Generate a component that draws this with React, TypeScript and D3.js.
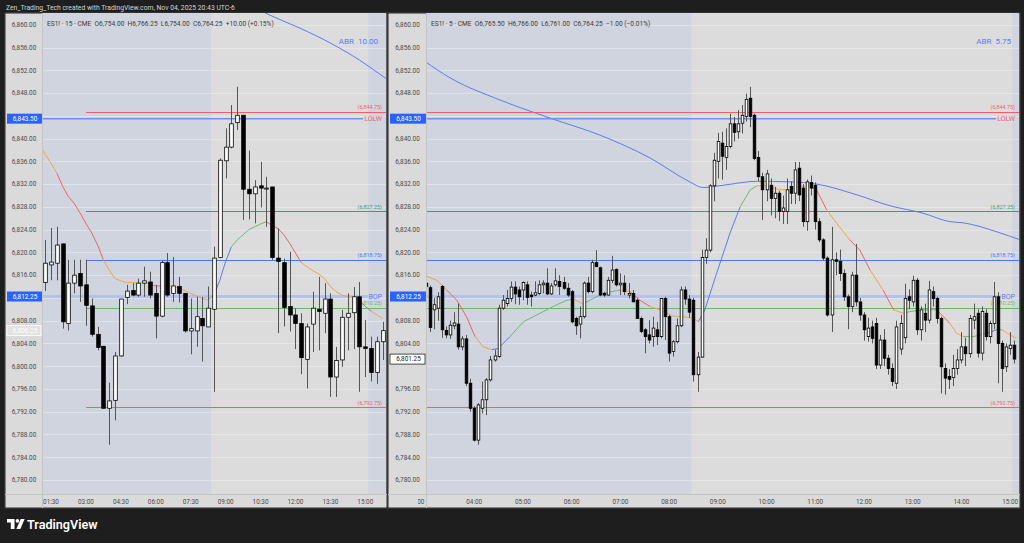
import React from "react";
import * as d3 from "d3";

const FONT = "Roboto, 'Liberation Sans', sans-serif";

// ---------- data ----------
const watermark = "Zen_Trading_Tech created with TradingView.com, Nov 04, 2025 20:43 UTC-6";

const priceTicks = d3.range(6780, 6861, 4);

// 15 min chart, first bar 01:15
const leftTitle = "ES1! · 15 · CME  O6,754.00  H6,766.25  L6,754.00  C6,764.25  +10.00 (+0.15%)";
const leftStart = "01:15";
const leftTicks = ["01:30", "03:00", "04:30", "06:00", "07:30", "09:00", "10:30", "12:00", "13:30", "15:00"];
const leftBars: [number, number, number, number][] = [
  [6814.7, 6822.2, 6813.2, 6818.1], [6817.8, 6824.3, 6815.1, 6818.3], [6818.1, 6824.5, 6815.1, 6821.3],
  [6821.5, 6821.5, 6806.6, 6807.8], [6807.5, 6818.7, 6806.3, 6814.6], [6814.6, 6818.7, 6812.8, 6816.0],
  [6816.3, 6818.7, 6811.3, 6814.1], [6814.3, 6818.7, 6807.1, 6810.7], [6810.6, 6811.9, 6805.2, 6805.6],
  [6805.6, 6806.9, 6802.8, 6803.3], [6803.5, 6803.5, 6797.0, 6792.6], [6792.6, 6797.1, 6786.2, 6793.9],
  [6794.0, 6802.5, 6790.5, 6801.8], [6801.8, 6811.8, 6801.7, 6811.8], [6812.1, 6814.3, 6810.9, 6813.2],
  [6813.3, 6814.6, 6812.3, 6812.5], [6812.5, 6815.4, 6812.2, 6814.6], [6814.6, 6817.5, 6812.2, 6815.0],
  [6814.8, 6816.6, 6811.9, 6812.5], [6812.8, 6814.3, 6804.9, 6808.8], [6808.8, 6818.7, 6808.6, 6818.2],
  [6818.2, 6819.9, 6812.2, 6812.5], [6812.8, 6819.2, 6811.3, 6814.1], [6814.0, 6815.7, 6811.2, 6812.8],
  [6812.8, 6812.8, 6805.9, 6806.2], [6806.2, 6811.9, 6802.1, 6806.6], [6806.2, 6812.2, 6803.4, 6808.7],
  [6808.4, 6812.2, 6800.8, 6807.1], [6806.9, 6814.0, 6806.9, 6810.2], [6810.0, 6821.0, 6795.5, 6819.0],
  [6819.1, 6836.5, 6819.0, 6836.2], [6836.1, 6841.8, 6833.0, 6838.5], [6838.5, 6845.9, 6838.3, 6842.6],
  [6842.8, 6849.1, 6841.5, 6844.1], [6844.1, 6844.1, 6825.7, 6831.1], [6831.1, 6837.9, 6825.8, 6830.3],
  [6830.3, 6832.7, 6825.1, 6831.5], [6831.7, 6835.9, 6827.9, 6831.3], [6831.3, 6833.3, 6824.5, 6831.3],
  [6831.5, 6831.5, 6818.7, 6819.1], [6819.0, 6824.2, 6805.8, 6818.4], [6818.2, 6818.9, 6807.0, 6810.3],
  [6810.5, 6820.1, 6806.1, 6809.0], [6809.0, 6810.2, 6803.0, 6807.5], [6807.5, 6809.3, 6798.6, 6801.5],
  [6801.2, 6807.5, 6796.1, 6806.9], [6807.4, 6813.1, 6802.5, 6810.2], [6810.0, 6815.7, 6802.8, 6809.6],
  [6809.3, 6814.6, 6805.8, 6811.8], [6811.8, 6812.8, 6794.6, 6798.1], [6798.1, 6803.4, 6794.6, 6801.0],
  [6801.1, 6809.9, 6799.9, 6808.6], [6808.6, 6812.8, 6802.8, 6809.3], [6809.4, 6813.9, 6803.0, 6812.2],
  [6812.2, 6814.8, 6795.5, 6803.4], [6803.4, 6808.1, 6798.1, 6803.1], [6803.1, 6805.2, 6797.3, 6798.9],
  [6798.9, 6805.2, 6796.9, 6804.3], [6804.3, 6807.8, 6801.1, 6806.25],
];
// [bar, value, state]  U strong up, u up, d down, D strong down
const leftTrend: [number, number, string][] = [
  [-0.6, 6838.3, "d"], [0, 6837.2, "d"], [1, 6835.7, "d"], [2, 6833.9, "d"], [3, 6831.6, "D"], [4, 6829.8, "D"],
  [5, 6828.6, "D"], [6, 6826.9, "D"], [7, 6825.1, "D"], [8, 6823.4, "D"], [9, 6821.3, "D"], [10, 6818.7, "D"],
  [11, 6816.9, "d"], [12, 6815.4, "d"], [13, 6815.0, "d"], [14, 6814.7, "d"], [15, 6814.7, "d"], [16, 6814.6, "d"],
  [17, 6814.6, "d"], [18, 6814.4, "d"], [19, 6814.1, "D"], [20, 6814.1, "D"], [21, 6814.1, "D"], [22, 6814.0, "d"],
  [23, 6813.7, "d"], [24, 6813.3, "d"], [25, 6812.8, "d"], [26, 6812.3, "d"], [27, 6811.9, "d"], [28, 6811.7, "d"],
  [29, 6812.5, "u"], [30, 6815.1, "U"], [31, 6818.4, "U"], [32, 6821.0, "U"], [33, 6822.2, "u"], [34, 6823.1, "u"],
  [35, 6824.0, "u"], [36, 6824.5, "u"], [37, 6825.0, "u"], [38, 6825.4, "u"], [39, 6824.7, "D"], [40, 6824.2, "D"],
  [41, 6823.1, "D"], [42, 6821.6, "D"], [43, 6819.9, "D"], [44, 6818.2, "D"], [45, 6817.5, "d"], [46, 6816.8, "d"],
  [47, 6816.2, "d"], [48, 6815.4, "d"], [49, 6814.0, "d"], [50, 6813.1, "d"], [51, 6812.5, "d"], [52, 6812.2, "d"],
  [53, 6812.1, "d"], [54, 6811.6, "D"], [55, 6810.5, "D"], [56, 6809.7, "D"], [57, 6809.0, "d"], [58, 6808.4, "d"],
];
const leftSlow: [number, number][] = [
  [36, 6863.0], [38.6, 6861.7], [43.8, 6859.4], [49, 6856.8], [54, 6853.8], [58.5, 6850.6], [59.5, 6849.9],
];

// 5 min chart, first bar 03:00
const rightTitle = "ES1! · 5 · CME  O6,765.50  H6,766.00  L6,761.00  C6,764.25  −1.00 (−0.01%)";
const rightStart = "03:00";
const rightTicks = ["03:00", "04:00", "05:00", "06:00", "07:00", "08:00", "09:00", "10:00", "11:00", "12:00", "13:00", "14:00", "15:00"];
const rightBars: [number, number, number, number][] = [
  [6814.6, 6818.7, 6812.0, 6814.0], [6813.8, 6814.2, 6806.0, 6806.8], [6809.9, 6812.0, 6806.5, 6810.8],
  [6810.2, 6813.0, 6808.0, 6812.2], [6814.0, 6814.3, 6805.0, 6806.4], [6806.3, 6807.0, 6804.9, 6805.5],
  [6805.5, 6808.0, 6804.8, 6807.2], [6807.1, 6809.5, 6806.5, 6807.6], [6807.4, 6811.0, 6802.9, 6803.4],
  [6803.4, 6805.3, 6802.8, 6804.8], [6804.8, 6805.5, 6796.5, 6797.0], [6797.0, 6797.8, 6792.0, 6792.6],
  [6792.6, 6793.0, 6786.8, 6787.0], [6787.0, 6793.5, 6786.2, 6793.2], [6792.6, 6797.3, 6791.7, 6794.1],
  [6794.1, 6797.9, 6791.4, 6797.6], [6797.6, 6801.8, 6797.3, 6801.1], [6801.1, 6802.9, 6800.8, 6801.8],
  [6801.7, 6810.8, 6801.5, 6810.2], [6810.2, 6812.5, 6809.9, 6811.6], [6811.0, 6813.4, 6810.5, 6811.9],
  [6811.9, 6814.9, 6811.3, 6813.9], [6813.9, 6814.9, 6810.9, 6812.7], [6813.4, 6814.0, 6810.8, 6812.2],
  [6813.4, 6814.9, 6811.6, 6814.7], [6814.3, 6814.9, 6810.8, 6812.1], [6812.5, 6813.1, 6810.5, 6812.2],
  [6812.5, 6814.9, 6812.3, 6812.9], [6812.8, 6815.1, 6812.5, 6814.3], [6814.3, 6815.1, 6812.8, 6814.6],
  [6814.6, 6817.2, 6812.5, 6812.7], [6812.7, 6814.6, 6812.5, 6814.1], [6814.3, 6817.2, 6814.0, 6815.0],
  [6814.9, 6816.0, 6812.5, 6814.0], [6814.7, 6815.7, 6813.4, 6813.7], [6813.7, 6814.6, 6812.2, 6812.5],
  [6813.1, 6813.4, 6807.5, 6807.8], [6808.4, 6808.7, 6805.5, 6807.1], [6807.4, 6810.5, 6804.9, 6808.7],
  [6808.7, 6814.9, 6808.4, 6814.6], [6814.6, 6815.7, 6812.8, 6813.1], [6813.1, 6818.7, 6812.8, 6818.2],
  [6818.2, 6820.4, 6817.4, 6817.5], [6817.3, 6817.5, 6812.3, 6812.5], [6812.8, 6813.1, 6812.2, 6812.5],
  [6812.5, 6815.7, 6812.4, 6815.1], [6815.1, 6819.4, 6814.6, 6816.9], [6817.0, 6817.2, 6814.0, 6814.3],
  [6814.3, 6816.3, 6812.5, 6814.6], [6814.6, 6816.0, 6812.5, 6813.1], [6812.5, 6814.6, 6811.9, 6812.8],
  [6812.8, 6813.4, 6811.3, 6811.3], [6811.6, 6811.9, 6808.4, 6808.4], [6808.4, 6808.7, 6805.8, 6806.1],
  [6806.4, 6806.7, 6802.3, 6805.2], [6805.5, 6808.1, 6804.0, 6804.6], [6805.2, 6808.7, 6803.4, 6806.7],
  [6806.4, 6807.8, 6803.7, 6805.2], [6805.2, 6811.9, 6804.9, 6811.9], [6811.9, 6812.2, 6804.6, 6808.7],
  [6808.7, 6809.0, 6800.8, 6802.3], [6802.6, 6804.6, 6801.7, 6804.3], [6804.3, 6808.4, 6804.0, 6807.1],
  [6807.1, 6814.0, 6806.9, 6813.4], [6813.4, 6814.0, 6810.8, 6811.8], [6811.8, 6812.5, 6808.5, 6809.5],
  [6811.6, 6812.0, 6797.3, 6798.5], [6798.5, 6802.5, 6795.5, 6801.6], [6801.6, 6820.5, 6801.5, 6819.1],
  [6819.1, 6822.5, 6818.0, 6820.4], [6820.4, 6832.0, 6820.0, 6831.7], [6831.7, 6837.5, 6829.0, 6836.2],
  [6836.0, 6841.0, 6833.0, 6839.5], [6839.2, 6841.2, 6832.8, 6836.9], [6836.7, 6841.8, 6834.5, 6838.6],
  [6838.6, 6844.4, 6838.3, 6842.6], [6842.6, 6843.8, 6839.5, 6841.1], [6841.2, 6845.0, 6840.0, 6842.6],
  [6842.7, 6845.9, 6840.9, 6844.1], [6843.9, 6847.9, 6843.0, 6846.9], [6847.1, 6849.1, 6842.0, 6843.9],
  [6844.1, 6844.4, 6836.2, 6836.5], [6836.7, 6837.8, 6832.5, 6833.3], [6833.3, 6834.0, 6825.7, 6831.0],
  [6831.0, 6834.5, 6829.0, 6833.8], [6831.8, 6833.0, 6826.5, 6829.5], [6829.5, 6831.5, 6826.0, 6830.4],
  [6830.4, 6830.8, 6825.5, 6827.2], [6827.2, 6830.0, 6825.0, 6827.8], [6827.2, 6833.0, 6825.0, 6831.0],
  [6831.6, 6832.5, 6828.5, 6830.4], [6830.4, 6835.9, 6828.5, 6834.5], [6834.8, 6835.9, 6829.0, 6830.1],
  [6831.3, 6832.0, 6824.5, 6825.4], [6825.4, 6832.8, 6823.8, 6832.4], [6832.3, 6833.5, 6830.0, 6831.3],
  [6831.8, 6832.3, 6824.0, 6825.4], [6825.4, 6826.0, 6821.8, 6822.2], [6822.2, 6822.5, 6818.6, 6819.0],
  [6819.0, 6819.3, 6808.7, 6809.0], [6809.0, 6824.5, 6806.0, 6818.7], [6818.7, 6820.0, 6816.0, 6818.4],
  [6818.4, 6820.5, 6815.0, 6816.3], [6816.3, 6817.0, 6811.5, 6812.2], [6812.2, 6812.6, 6806.5, 6810.5],
  [6810.5, 6816.6, 6809.5, 6816.0], [6816.0, 6821.5, 6810.5, 6811.3], [6811.3, 6812.0, 6808.0, 6809.0],
  [6809.0, 6809.5, 6804.5, 6806.4], [6805.2, 6808.5, 6804.3, 6806.7], [6806.9, 6808.0, 6804.0, 6804.9],
  [6807.5, 6808.5, 6799.5, 6800.2], [6800.2, 6805.5, 6799.5, 6804.6], [6804.6, 6806.5, 6800.0, 6801.4],
  [6801.4, 6802.0, 6798.5, 6799.6], [6799.6, 6800.5, 6796.5, 6797.3], [6797.0, 6808.0, 6796.0, 6806.9],
  [6803.0, 6809.0, 6802.0, 6807.5], [6805.0, 6814.5, 6804.0, 6811.9], [6812.2, 6813.5, 6810.0, 6811.6],
  [6811.3, 6815.9, 6810.5, 6815.1], [6815.1, 6815.5, 6805.5, 6806.4], [6806.4, 6810.5, 6804.5, 6809.9],
  [6809.3, 6811.0, 6806.0, 6808.1], [6808.1, 6815.0, 6807.5, 6813.4], [6813.1, 6814.0, 6810.5, 6811.9],
  [6811.9, 6812.2, 6807.5, 6808.4], [6808.4, 6808.7, 6795.2, 6799.9], [6799.6, 6800.5, 6795.0, 6797.9],
  [6798.2, 6799.5, 6796.0, 6797.7], [6798.0, 6802.0, 6796.5, 6799.6], [6799.6, 6803.0, 6798.5, 6801.1],
  [6801.1, 6806.0, 6800.5, 6803.4], [6803.4, 6805.0, 6800.0, 6802.2], [6802.2, 6809.0, 6801.5, 6808.4],
  [6808.1, 6811.0, 6806.5, 6808.7], [6809.3, 6810.0, 6801.5, 6802.3], [6802.3, 6810.5, 6801.0, 6809.6],
  [6809.3, 6810.0, 6804.5, 6805.2], [6805.2, 6808.0, 6804.0, 6807.5], [6807.5, 6814.8, 6806.5, 6812.2],
  [6812.2, 6813.0, 6797.0, 6804.0], [6804.0, 6804.5, 6795.5, 6799.6], [6799.9, 6804.0, 6799.0, 6803.4],
  [6803.1, 6806.0, 6802.0, 6803.7], [6803.7, 6804.5, 6800.5, 6801.25],
];
const rightTrend: [number, number, string][] = [
  [0, 6815.9, "d"], [2.8, 6815.1, "d"], [5.2, 6813.4, "d"], [7.7, 6811.6, "D"], [10.1, 6808.7, "D"],
  [12.2, 6805.2, "D"], [14.2, 6803.4, "d"], [16.3, 6802.9, "d"], [17.9, 6803.1, "U"], [20.8, 6805.2, "U"],
  [24.1, 6807.8, "u"], [28.2, 6809.3, "u"], [31.5, 6810.5, "u"], [34.8, 6811.6, "u"], [36.4, 6811.8, "u"],
  [38.9, 6810.9, "d"], [40.5, 6811.6, "u"], [43.8, 6812.8, "u"], [47.9, 6813.4, "u"], [50.4, 6813.1, "d"],
  [52.8, 6811.6, "D"], [55.3, 6810.5, "D"], [57.8, 6809.9, "d"], [61, 6808.8, "d"], [63.5, 6808.7, "d"],
  [66, 6808.4, "d"], [67.2, 6807.8, "d"], [68.8, 6809.9, "U"], [71.7, 6816.3, "U"], [75, 6823.4, "U"],
  [77.5, 6828.0, "U"], [80, 6831.0, "u"], [81.6, 6831.7, "u"], [84, 6831.7, "d"], [87.3, 6831.0, "d"],
  [89.8, 6831.0, "d"], [92.2, 6831.6, "d"], [94.7, 6831.7, "d"], [96.3, 6831.0, "D"], [98.8, 6827.5, "D"],
  [101.3, 6825.1, "d"], [104.5, 6822.2, "d"], [107, 6820.4, "D"], [109.5, 6816.9, "D"], [112.7, 6813.4, "d"],
  [115.3, 6809.9, "D"], [117.7, 6809.3, "d"], [119.3, 6809.6, "u"], [122.6, 6809.9, "u"], [125.9, 6809.9, "u"],
  [129.2, 6807.5, "D"], [130.8, 6805.8, "d"], [132.5, 6805.2, "d"], [135, 6805.2, "u"], [138.2, 6805.8, "u"],
  [140.7, 6806.4, "U"], [142, 6806.4, "u"], [144, 6805.5, "d"], [145.5, 6804.9, "d"],
];
const rightSlow: [number, number][] = [
  [0, 6853.5], [6, 6850.7], [18.3, 6846.8], [30.7, 6843.6], [43, 6840.6], [55.3, 6836.6], [65.1, 6832.4],
  [68.3, 6831.4], [73.3, 6831.8], [81.7, 6832.5], [89.8, 6832.4], [96.4, 6832.0], [106.3, 6830.1],
  [114.4, 6828.2], [122.5, 6826.9], [129.2, 6825.4], [132.4, 6825.2], [140.8, 6823.6], [146.5, 6822.2],
];

const levelPrices = [6844.75, 6827.25, 6818.75, 6810.25, 6792.75];
const levelLabels = ["(6,844.75)", "(6,827.25)", "(6,818.75)", "(6,810.25)", "(6,792.75)"];
const levelKinds = ["red", "teal", "blue", "green", "red"];
const lolw = 6843.5;
const bop = 6812.25;
const levelsFrom = "03:00";
const sessionFrom = "08:30";
const sessionTo = "15:00";

// ---------- helpers ----------
const toMin = (t: string) => {
  const [h, m] = t.split(":").map(Number);
  return h * 60 + m;
};
const fmt = d3.format(",.2f");
const TREND: Record<string, string> = { U: "#5b7cf0", u: "#6fb87a", d: "#f5a445", D: "#f0606c" };
const LEVEL: Record<string, string> = { red: "#f0606c", teal: "#3f9a82", blue: "#4b78f0", green: "#72b46e" };

const yScale = d3.scaleLinear().domain([6780, 6860]).range([480, 24.8]);
const TOP = 13;
const PLOT_BOTTOM = 494;
const BOTTOM = 508;

type PanelCfg = {
  id: string;
  left: number;
  right: number;
  axisRight: number;
  plotRight: number;
  x0: number;
  step: number;
  start: string;
  interval: number;
  bars: [number, number, number, number][];
  trend: [number, number, string][];
  slow: [number, number][];
  ticks: string[];
  title: string;
  abr: string;
  bodyW: number;
  lastBox: "faded" | "solid";
};

function Panel({ c }: { c: PanelCfg }) {
  const n = c.bars.length;
  const x = d3.scaleLinear().domain([0, 1]).range([c.x0, c.x0 + c.step]);
  const idx = (t: string) => (toMin(t) - toMin(c.start)) / c.interval;
  const y = yScale;
  const plotL = c.axisRight;
  const plotR = c.plotRight;
  const plotW = plotR - plotL;
  const sess0 = x(idx(sessionFrom) - 0.5);
  const sess1 = Math.min(x(idx(sessionTo) + 0.5), plotR);
  const lvlStart = Math.max(x(idx(levelsFrom)), plotL);
  const slowLine = d3
    .line<[number, number]>()
    .x((d) => x(d[0]))
    .y((d) => y(d[1]))
    .curve(d3.curveMonotoneX);
  const last = c.bars[n - 1][3];
  const axisMid = (c.left + 1 + c.axisRight) / 2;
  const labelR = plotR - 4;
  const crisp = (v: number) => Math.round(v) + 0.5;
  // axis labels hidden behind the coloured price boxes
  const boxed = [lolw, bop, last];
  const visibleTicks = priceTicks.filter((p) => boxed.every((b) => Math.abs(y(p) - y(b)) > 9));

  return (
    <g>
      <defs>
        <clipPath id={`clip-${c.id}`}>
          <rect x={plotL} y={TOP} width={plotW} height={PLOT_BOTTOM - TOP} />
        </clipPath>
        <clipPath id={`tclip-${c.id}`}>
          <rect x={plotL - 8} y={PLOT_BOTTOM} width={plotW + 8} height={BOTTOM - PLOT_BOTTOM} />
        </clipPath>
      </defs>
      <rect x={c.left} y={TOP} width={c.right - c.left} height={BOTTOM - TOP} fill="#dcdcdc" stroke="#3a3a3a" strokeWidth={1.5} />
      <g clipPath={`url(#clip-${c.id})`}>
        <rect x={plotL} y={TOP} width={plotW} height={PLOT_BOTTOM - TOP} fill="#d0d4de" />
        <rect x={sess0} y={TOP} width={sess1 - sess0} height={PLOT_BOTTOM - TOP} fill="#dcdcdc" />
        {priceTicks.map((p) => (
          <line key={p} x1={plotL} x2={plotR} y1={crisp(y(p))} y2={crisp(y(p))} stroke="#ffffff" strokeOpacity={0.3} />
        ))}
        <path d={slowLine(c.slow) || ""} fill="none" stroke="#5b7cf0" strokeWidth={1} />
        {levelPrices.map((p, k) => (
          <g key={p}>
            <line x1={lvlStart} x2={plotR} y1={crisp(y(p))} y2={crisp(y(p))} stroke={LEVEL[levelKinds[k]]} strokeWidth={1} />
            <text x={labelR} y={y(p) - 2.5} textAnchor="end" fontSize={5.4} fill={LEVEL[levelKinds[k]]} fontFamily={FONT}>
              {levelLabels[k]}
            </text>
          </g>
        ))}
        <line x1={plotL} x2={labelR - 19} y1={y(lolw)} y2={y(lolw)} stroke="#6f8ff2" strokeWidth={1.5} />
        <text x={labelR} y={y(lolw) + 2.5} textAnchor="end" fontSize={7} fill="#f0606c" fontFamily={FONT}>
          LOLW
        </text>
        <line x1={plotL} x2={labelR - 14} y1={y(bop)} y2={y(bop)} stroke="#b4c1ea" strokeWidth={3} />
        <text x={labelR} y={y(bop) + 2.5} textAnchor="end" fontSize={7} fill="#5b7cf0" fontFamily={FONT}>
          BOP
        </text>
        {c.trend.slice(1).map((p, k) => {
          const a = c.trend[k];
          return (
            <line key={k} x1={x(a[0])} y1={y(a[1])} x2={x(p[0])} y2={y(p[1])} stroke={TREND[p[2]]} strokeWidth={1} />
          );
        })}
        {c.bars.map(([o, h, l, cl], i) => {
          const cx = crisp(x(i));
          const up = cl >= o;
          const top = y(Math.max(o, cl));
          const bot = y(Math.min(o, cl));
          return (
            <g key={i}>
              <line x1={cx} x2={cx} y1={y(h)} y2={y(l)} stroke="#555555" strokeWidth={1} />
              <rect
                x={cx - c.bodyW / 2}
                y={top}
                width={c.bodyW}
                height={Math.max(bot - top, 1)}
                fill={up ? "#ffffff" : "#000000"}
                stroke="#000000"
                strokeWidth={0.8}
              />
            </g>
          );
        })}
        <text x={plotR - 8} y={44} textAnchor="end" fontSize={8} fill="#5b7cf0" fontFamily={FONT} style={{ whiteSpace: "pre" }}>
          {c.abr}
        </text>
        <text x={plotL + 5} y={26} fontSize={6.6} fill="#3a3a3a" fontFamily={FONT} style={{ whiteSpace: "pre" }}>
          {c.title}
        </text>
      </g>
      {/* time axis */}
      <rect x={c.left + 0.75} y={PLOT_BOTTOM} width={c.right - c.left - 1.5} height={BOTTOM - PLOT_BOTTOM - 0.75} fill="#dadada" />
      <line x1={c.left} x2={c.right} y1={PLOT_BOTTOM + 0.5} y2={PLOT_BOTTOM + 0.5} stroke="#c4c4c4" />
      <g clipPath={`url(#tclip-${c.id})`}>
        {c.ticks.map((t) => (
          <text key={t} x={x(idx(t)) - (idx(t) === 0 ? 9 : 0)} y={503.5} textAnchor="middle" fontSize={6.4} fill="#4a4a4a" fontFamily={FONT}>
            {t}
          </text>
        ))}
      </g>
      {/* price axis */}
      <rect x={c.left + 0.75} y={TOP + 0.75} width={c.axisRight - c.left - 0.75} height={PLOT_BOTTOM - TOP - 0.75} fill="#dadada" />
      <line x1={c.axisRight + 0.5} x2={c.axisRight + 0.5} y1={TOP} y2={BOTTOM} stroke="#c4c4c4" />
      {visibleTicks.map((p) => (
        <text key={p} x={axisMid} y={y(p) + 2.3} textAnchor="middle" fontSize={6.4} fill="#4a4a4a" fontFamily={FONT}>
          {fmt(p)}
        </text>
      ))}
      {[lolw, bop].map((p) => (
        <g key={p}>
          <rect x={c.left + 2} y={y(p) - 5} width={c.axisRight - c.left - 2} height={10} fill="#2962ff" />
          <text x={axisMid + 1} y={y(p) + 2.3} textAnchor="middle" fontSize={6.4} fill="#ffffff" fontFamily={FONT}>
            {fmt(p)}
          </text>
        </g>
      ))}
      <g>
        <rect
          x={c.left + 2}
          y={y(last) - 5}
          width={c.axisRight - c.left - 3}
          height={10}
          fill={c.lastBox === "solid" ? "#ffffff" : "#e2e2e2"}
          stroke={c.lastBox === "solid" ? "#222222" : "#ffffff"}
          strokeWidth={0.8}
        />
        <text
          x={axisMid + 1}
          y={y(last) + 2.3}
          textAnchor="middle"
          fontSize={6.4}
          fill={c.lastBox === "solid" ? "#222222" : "#ffffff"}
          fontFamily={FONT}
        >
          {fmt(last)}
        </text>
      </g>
    </g>
  );
}

const leftCfg: PanelCfg = {
  id: "l",
  left: 5,
  right: 387,
  axisRight: 42,
  plotRight: 386,
  x0: 45.2,
  step: 5.82,
  start: leftStart,
  interval: 15,
  bars: leftBars,
  trend: leftTrend,
  slow: leftSlow,
  ticks: leftTicks,
  title: leftTitle,
  abr: "ABR  10.00",
  bodyW: 3.6,
  lastBox: "faded",
};

const rightCfg: PanelCfg = {
  id: "r",
  left: 388,
  right: 1020,
  axisRight: 426,
  plotRight: 1019,
  x0: 425.5,
  step: 4.06,
  start: rightStart,
  interval: 5,
  bars: rightBars,
  trend: rightTrend,
  slow: rightSlow,
  ticks: rightTicks,
  title: rightTitle,
  abr: "ABR  5.75",
  bodyW: 2.6,
  lastBox: "solid",
};

export default function App() {
  return (
    <svg
      width={1024}
      height={543}
      viewBox="0 0 1024 543"
      style={{ position: "absolute", left: 0, top: 0, display: "block", background: "#1e1e1e" }}
    >
      <rect x={0} y={0} width={1024} height={543} fill="#1e1e1e" />
      <text x={6} y={10} fontSize={6.8} fill="#d4d4d4" fontFamily={FONT}>
        {watermark}
      </text>
      <Panel c={leftCfg} />
      <Panel c={rightCfg} />
      <g fill="#ffffff">
        <path d="M7 519 H14.5 V529 H10.8 V522.6 H7 Z" />
        <circle cx={17.4} cy={520.9} r={1.8} />
        <path d="M20.6 519 H24.6 L20.4 529 H16.4 Z" />
        <text x={27} y={528.8} fontSize={12.6} fontWeight={600} fontFamily={FONT}>
          TradingView
        </text>
      </g>
    </svg>
  );
}
